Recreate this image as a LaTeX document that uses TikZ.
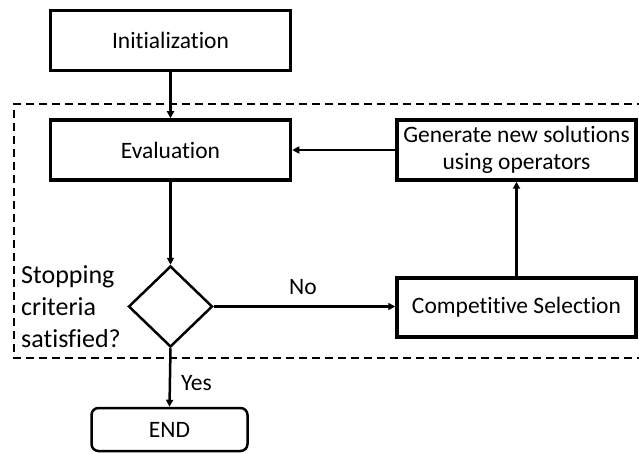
\documentclass[tikz,border=0pt]{standalone}
\usepackage{fontspec}
\setmainfont{Carlito}[Ligatures={NoCommon}]
\usetikzlibrary{shapes.geometric,arrows.meta}
\begin{document}
\begin{tikzpicture}[x=1pt,y=-1pt,
  box/.style={draw, line width=3.5pt, minimum width=240pt, minimum height=60pt, inner sep=0pt, font=\fontsize{23.5}{27}\selectfont, align=center},
  endbox/.style={draw, line width=2.5pt, rounded corners=7pt, minimum width=156pt, minimum height=43pt, inner sep=0pt, font=\fontsize{23.5}{28}\selectfont},
  decision/.style={draw, diamond, line width=2.5pt, minimum width=84pt, minimum height=81pt, inner sep=0pt},
  arr/.style={line width=2.5pt, -{Triangle[length=7pt,width=7pt]}},
  lbl/.style={font=\fontsize{23.5}{28}\selectfont, inner sep=0pt},
  frame/.style={line width=2.5pt, dash pattern=on 8pt off 5pt}
]
\useasboundingbox (0,0) rectangle (639,454);
\fill[white] (0,0) rectangle (639,454);
\draw[frame] (645,104) -- (14,104) -- (14,358) -- (645,358);
\node[box] (init) at (170.5,40.5) {Initialization};
\node[box] (eval) at (170.5,150) {Evaluation};
\node[box, minimum width=239pt] (gen) at (516.5,150) {Generate new solutions\\using operators};
\node[box, minimum width=239pt, minimum height=59pt] (comp) at (516.5,307.5) {Competitive Selection};
\node[decision] (dec) at (170.5,306.5) {};
\node[endbox] (end) at (169.5,429.5) {END};
\node[anchor=west, align=left, inner sep=0pt, font=\fontsize{26}{32}\selectfont] (stop) at (21,307) {Stopping\\criteria\\satisfied?};
\node[lbl] (no) at (303,287) {No};
\node[lbl, anchor=west] (yes) at (181,383) {Yes};
\draw[arr] (init.south) -- (eval.north);
\draw[arr] (eval.south) -- (dec.north);
\draw[arr] (dec.east) -- (dec.east -| comp.west);
\draw[arr] (comp.north) -- (gen.south);
\draw[arr] (gen.west) -- (eval.east);
\draw[arr] (dec.south) -- (end.north);
\end{tikzpicture}
\end{document}
